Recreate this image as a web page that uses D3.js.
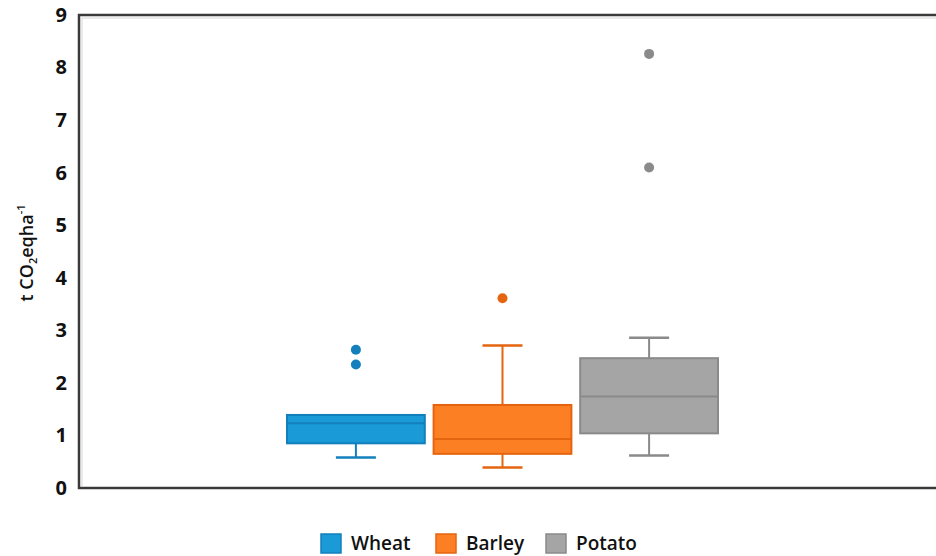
<!DOCTYPE html>
<meta charset="utf-8">
<script src="https://d3js.org/d3.v7.min.js"></script>
<style>
    html, body { margin: 0; background: white; }
    text { font-family: "Open Sans", sans-serif; fill: #111; }
</style>
<body></body>
<script>
    // DATA
    const crops    = ["Wheat", "Barley", "Potato"];
    const q1       = [0.85, 0.65, 1.04];
    const median   = [1.23, 0.93, 1.74];
    const q3       = [1.39, 1.58, 2.47];
    const whiskLo  = [0.58, 0.39, 0.62];
    const whiskHi  = [1.39, 2.71, 2.86];
    const outliers = [[2.63, 2.35], [3.61], [8.26, 6.10]];
    const yTicks   = [0, 1, 2, 3, 4, 5, 6, 7, 8, 9];

    const fills   = ["#1a9ad6", "#fd7f23", "#a5a5a5"];
    const strokes = ["#137fbd", "#e5640f", "#8a8a8a"];

    // LAYOUT
    const width = 936, height = 556;
    const plot = { left: 79, top: 15, right: 940, bottom: 488 };

    const svg = d3.select("body").append("svg")
        .attr("width", width)
        .attr("height", height);

    const y = d3.scaleLinear().domain([0, 9]).range([plot.bottom, plot.top]);
    const x = d3.scaleBand().domain(crops).range([287, 718]).paddingInner(0.06);

    // faint inner shadow of the frame
    svg.append("path")
        .attr("d", `M${plot.right},${plot.top + 3}H${plot.left + 3}V${plot.bottom - 2}`)
        .attr("fill", "none")
        .attr("stroke", "#e4e4e4")
        .attr("stroke-width", 1.5);

    // y tick labels (no tick marks)
    const yAxis = d3.axisLeft(y).tickValues(yTicks).tickSize(0).tickPadding(11);
    const ga = svg.append("g")
        .attr("transform", `translate(${plot.left - 1},0)`)
        .call(yAxis);
    ga.select(".domain").remove();
    ga.selectAll("text")
        .style("font-family", "'Open Sans', sans-serif")
        .style("font-size", "20px")
        .style("font-weight", 700)
        .style("fill", "#111");

    // axis title
    const yt = svg.append("text")
        .attr("transform", `translate(33,253) rotate(-90)`)
        .attr("text-anchor", "middle")
        .style("font-size", "18px")
        .style("font-weight", 600);
    yt.append("tspan").text("t CO");
    yt.append("tspan").attr("dy", 4).style("font-size", "11px").text("2");
    yt.append("tspan").attr("dy", -4).text("eqha");
    yt.append("tspan").attr("dy", -8).style("font-size", "11px").text("-1");

    // boxes
    const cap = 40;
    crops.forEach(function(c, i) {
        const g = svg.append("g");
        const cx = x(c) + x.bandwidth() / 2;

        // whiskers
        g.append("line")
            .attr("x1", cx).attr("x2", cx)
            .attr("y1", y(whiskLo[i])).attr("y2", y(q1[i]))
            .attr("stroke", strokes[i]).attr("stroke-width", 2);
        g.append("line")
            .attr("x1", cx - cap / 2).attr("x2", cx + cap / 2)
            .attr("y1", y(whiskLo[i])).attr("y2", y(whiskLo[i]))
            .attr("stroke", strokes[i]).attr("stroke-width", 2.5);
        if (whiskHi[i] > q3[i]) {
            g.append("line")
                .attr("x1", cx).attr("x2", cx)
                .attr("y1", y(whiskHi[i])).attr("y2", y(q3[i]))
                .attr("stroke", strokes[i]).attr("stroke-width", 2);
            g.append("line")
                .attr("x1", cx - cap / 2).attr("x2", cx + cap / 2)
                .attr("y1", y(whiskHi[i])).attr("y2", y(whiskHi[i]))
                .attr("stroke", strokes[i]).attr("stroke-width", 2.5);
        }

        // box
        g.append("rect")
            .attr("x", x(c))
            .attr("y", y(q3[i]))
            .attr("width", x.bandwidth())
            .attr("height", y(q1[i]) - y(q3[i]))
            .attr("fill", fills[i])
            .attr("stroke", strokes[i])
            .attr("stroke-width", 2);

        // median
        g.append("line")
            .attr("x1", x(c)).attr("x2", x(c) + x.bandwidth())
            .attr("y1", y(median[i])).attr("y2", y(median[i]))
            .attr("stroke", strokes[i]).attr("stroke-width", 2);

        // outliers
        g.selectAll("circle")
            .data(outliers[i])
            .join("circle")
            .attr("cx", cx)
            .attr("cy", d => y(d))
            .attr("r", 5)
            .attr("fill", strokes[i]);
    });

    // frame
    svg.append("path")
        .attr("d", `M${plot.right},${plot.top}H${plot.left}V${plot.bottom}H${plot.right}`)
        .attr("fill", "none")
        .attr("stroke", "#3a3a3a")
        .attr("stroke-width", 2.5);

    // legend
    const legendX = [321, 436, 546];
    const lg = svg.append("g").attr("transform", "translate(0,543)");
    crops.forEach(function(c, i) {
        lg.append("rect")
            .attr("x", legendX[i]).attr("y", -9)
            .attr("width", 20).attr("height", 19)
            .attr("fill", fills[i])
            .attr("stroke", strokes[i])
            .attr("stroke-width", 1.5);
        lg.append("text")
            .attr("x", legendX[i] + 30)
            .attr("y", 7)
            .style("font-size", "19px")
            .style("font-weight", 600)
            .text(c);
    });
</script>
